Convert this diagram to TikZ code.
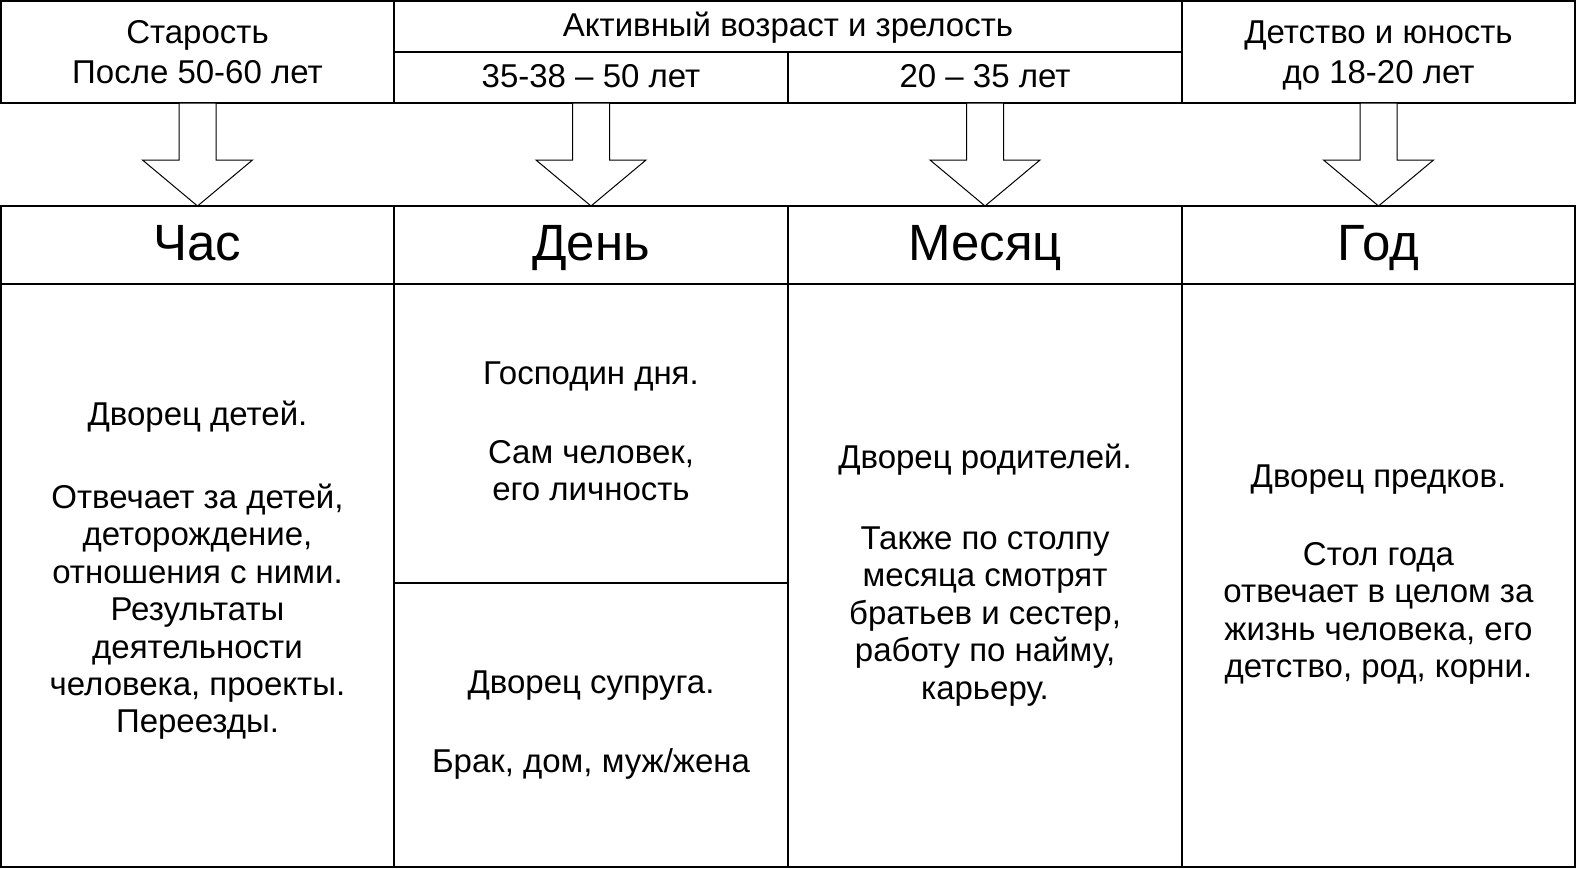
\documentclass[tikz,border=0pt]{standalone}
\usepackage{fontspec}
\setmainfont{Liberation Sans}
\usetikzlibrary{calc}
\newcommand\ctab[1]{\begin{tabular}[t]{@{}c@{}}#1\end{tabular}}
\begin{document}
\begin{tikzpicture}[x=1pt,y=-1pt,
  cell/.style={draw=black, line width=1.2pt, rectangle, inner sep=0pt, outer sep=0pt, anchor=north west},
  toptext/.style={anchor=base, inner sep=0pt, font=\fontsize{33}{40}\selectfont},
  bigtext/.style={anchor=base, inner sep=0pt, font=\fontsize{51}{58}\selectfont},
  bodytext/.style={anchor=base, inner sep=0pt, font=\fontsize{33}{37.4}\selectfont},
  blockarrow/.style={draw=black, fill=white, line width=1pt, line join=miter}]
\useasboundingbox (0,0) rectangle (1576,868);
\fill[white] (0,0) rectangle (1576,868);
% top boxes
\node[cell, minimum width=393pt, minimum height=102pt] (tA) at (1,1) {};
\node[cell, minimum width=788pt, minimum height=51pt] (tB) at (394,1) {};
\node[cell, minimum width=394pt, minimum height=51pt] (tB1) at (394,52) {};
\node[cell, minimum width=394pt, minimum height=51pt] (tB2) at (788,52) {};
\node[cell, minimum width=393pt, minimum height=102pt] (tC) at (1182,1) {};
% header row
\node[cell, minimum width=393pt, minimum height=78pt] (h1) at (1,206) {};
\node[cell, minimum width=394pt, minimum height=78pt] (h2) at (394,206) {};
\node[cell, minimum width=394pt, minimum height=78pt] (h3) at (788,206) {};
\node[cell, minimum width=393pt, minimum height=78pt] (h4) at (1182,206) {};
% body
\node[cell, minimum width=393pt, minimum height=583pt] (b1) at (1,284) {};
\node[cell, minimum width=394pt, minimum height=299pt] (b2a) at (394,284) {};
\node[cell, minimum width=394pt, minimum height=284pt] (b2b) at (394,583) {};
\node[cell, minimum width=394pt, minimum height=583pt] (b3) at (788,284) {};
\node[cell, minimum width=393pt, minimum height=583pt] (b4) at (1182,284) {};
% texts top
\node[toptext] (xA) at (197.5,43) {\ctab{Старость\\После 50-60 лет}};
\node[toptext] (xB) at (788,36) {Активный возраст и зрелость};
\node[toptext] (xB1) at (591,87) {35-38 – 50 лет};
\node[toptext] (xB2) at (985,87) {20 – 35 лет};
\node[toptext] (xC) at (1378.5,43) {\ctab{Детство и юность\\до 18-20 лет}};
% big headers
\node[bigtext] (y1) at (197.5,260) {Час};
\node[bigtext] (y2) at (591,260) {День};
\node[bigtext] (y3) at (985,260) {Месяц};
\node[bigtext] (y4) at (1378.5,260) {Год};
% body texts
\node[bodytext] (z1) at (197.5,425) {\ctab{Дворец детей.\\[46pt]Отвечает за детей,\\деторождение,\\отношения с ними.\\Результаты\\деятельности\\человека, проекты.\\Переезды.}};
\node[bodytext] (z2a) at (591,384) {\ctab{Господин дня.\\[42pt]Сам человек,\\его личность}};
\node[bodytext] (z2b) at (591,693) {\ctab{Дворец супруга.\\[42pt]Брак, дом, муж/жена}};
\node[bodytext] (z3) at (985,468) {\ctab{Дворец родителей.\\[44pt]Также по столпу\\месяца смотрят\\братьев и сестер,\\работу по найму,\\карьеру.}};
\node[bodytext] (z4) at (1378.5,487) {\ctab{Дворец предков.\\[41pt]Стол года\\отвечает в целом за\\жизнь человека, его\\детство, род, корни.}};
% block arrows
\newcommand\blkarrow[2]{%
  \draw[blockarrow] ([xshift=-18.5pt]#1.south) -- ([xshift=18.5pt]#1.south)
    -- ([xshift=18.5pt,yshift=46pt]#2.north) -- ([xshift=55pt,yshift=46pt]#2.north)
    -- (#2.north) -- ([xshift=-55pt,yshift=46pt]#2.north)
    -- ([xshift=-18.5pt,yshift=46pt]#2.north) -- cycle;}
\blkarrow{tA}{h1}
\blkarrow{tB1}{h2}
\blkarrow{tB2}{h3}
\blkarrow{tC}{h4}
\end{tikzpicture}
\end{document}
